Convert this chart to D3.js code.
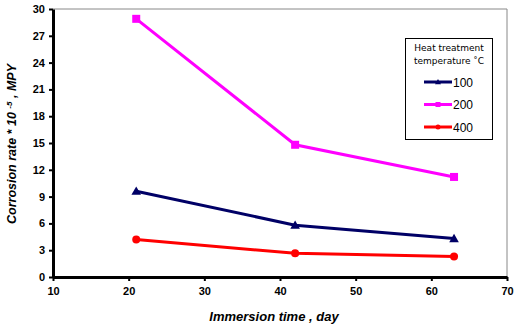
<!DOCTYPE html>
<meta charset="utf-8">
<style>
body { margin: 0; background: #fff; }
svg { font-family: "Liberation Sans", Arial, sans-serif; }
.tick text { font-size: 11px; font-weight: bold; fill: #000; }
</style>
<body>
<svg width="518" height="326"></svg>
<script src="https://cdn.jsdelivr.net/npm/d3@7"></script>
<script>
// immersion time, day
var days = [21, 42, 63];
// corrosion rate * 10^-5 MPY, per heat treatment temperature
var temps = ["100", "200", "400"];
var rate100 = [9.6, 5.8, 4.3];
var rate200 = [28.9, 14.8, 11.2];
var rate400 = [4.2, 2.65, 2.3];
var xTicks = [10, 20, 30, 40, 50, 60, 70];
var yTicks = [0, 3, 6, 9, 12, 15, 18, 21, 24, 27, 30];

var series = [
  { name: temps[0], values: rate100, color: "#000066", shape: "triangle" },
  { name: temps[1], values: rate200, color: "#ff00ff", shape: "square" },
  { name: temps[2], values: rate400, color: "#ff0000", shape: "circle" }
];

var svg = d3.select("svg");
var plotL = 53, plotR = 507, plotT = 9, plotB = 277;

var x = d3.scaleLinear().domain([10, 70]).range([plotL, plotR]);
var y = d3.scaleLinear().domain([0, 30]).range([plotB, plotT]);

// gray frame on top and right
svg.append("path")
    .attr("d", `M${plotL},${plotT}H${plotR}V${plotB}`)
    .attr("fill", "none")
    .attr("stroke", "#888")
    .attr("stroke-width", 1);

var xAxis = svg.append("g")
    .attr("transform", `translate(0,${plotB})`)
    .call(d3.axisBottom(x).tickValues(xTicks).tickSize(4).tickSizeOuter(0).tickPadding(6));
var yAxis = svg.append("g")
    .attr("transform", `translate(${plotL},0)`)
    .call(d3.axisLeft(y).tickValues(yTicks).tickSize(4).tickSizeOuter(0).tickPadding(4));
[xAxis, yAxis].forEach(a => {
  a.select(".domain").attr("stroke", "#000").attr("stroke-width", 3);
  a.selectAll(".tick line").attr("stroke", "#000").attr("stroke-width", 2);
});

var line = d3.line().x((d, i) => x(days[i])).y(d => y(d));

function marker(g, shape, cx, cy, color, s) {
  if (shape === "square") {
    g.append("rect").attr("x", cx - s).attr("y", cy - s)
      .attr("width", 2 * s).attr("height", 2 * s).attr("fill", color);
  } else if (shape === "circle") {
    g.append("circle").attr("cx", cx).attr("cy", cy).attr("r", s).attr("fill", color);
  } else {
    g.append("path")
      .attr("d", `M${cx},${cy - s * 1.2}L${cx + s * 1.2},${cy + s * 0.9}L${cx - s * 1.2},${cy + s * 0.9}Z`)
      .attr("fill", color);
  }
}

series.forEach(s => {
  svg.append("path")
      .attr("d", line(s.values))
      .attr("fill", "none")
      .attr("stroke", s.color)
      .attr("stroke-width", 3);
  var g = svg.append("g");
  s.values.forEach((v, i) => marker(g, s.shape, x(days[i]), y(v), s.color, 4));
});

// axis titles
svg.append("text")
    .attr("transform", `translate(16,144) rotate(-90)`)
    .attr("text-anchor", "middle")
    .attr("font-size", 12.5).attr("font-weight", "bold").attr("font-style", "italic")
    .html('Corrosion rate * 10 <tspan dy="-4" font-size="8">-5</tspan><tspan dy="4"> , MPY</tspan>');
svg.append("text")
    .attr("x", 274).attr("y", 321)
    .attr("text-anchor", "middle")
    .attr("font-size", 13).attr("font-weight", "bold").attr("font-style", "italic")
    .text("Immersion time , day");

// legend
var lg = svg.append("g");
lg.append("rect")
    .attr("x", 405.5).attr("y", 38.5).attr("width", 87).attr("height", 101)
    .attr("fill", "#fff").attr("stroke", "#000").attr("stroke-width", 1);
lg.append("text").attr("x", 449).attr("y", 51).attr("text-anchor", "middle")
    .attr("font-size", 9).attr("font-family", "'DejaVu Sans', sans-serif").text("Heat treatment");
lg.append("text").attr("x", 449).attr("y", 64).attr("text-anchor", "middle")
    .attr("font-size", 9).attr("font-family", "'DejaVu Sans', sans-serif").text("temperature ˚C");
series.forEach((s, i) => {
  var ly = 82 + i * 22.5;
  lg.append("line").attr("x1", 424).attr("x2", 452).attr("y1", ly).attr("y2", ly)
    .attr("stroke", s.color).attr("stroke-width", 3);
  marker(lg, s.shape, 438, ly, s.color, 2.5);
  lg.append("text").attr("x", 453).attr("y", ly + 4.5)
    .attr("font-size", 12).text(s.name);
});
</script>
</body>
